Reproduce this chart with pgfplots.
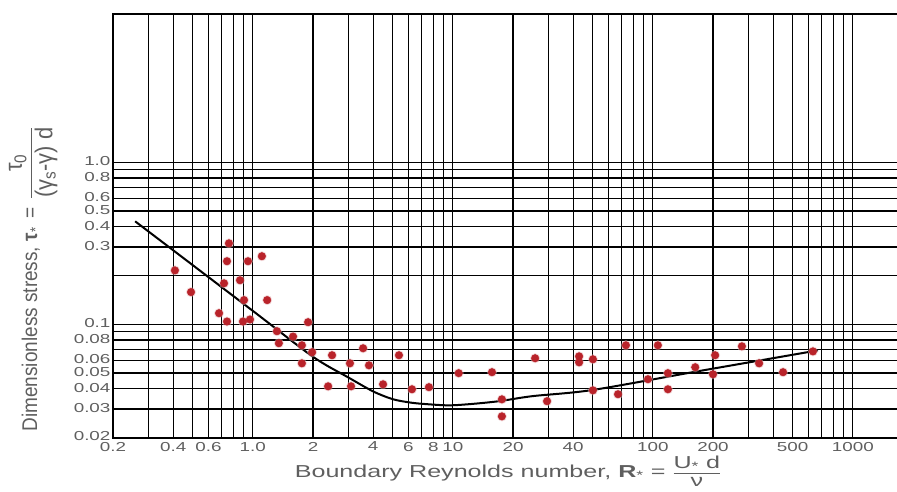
\documentclass[border=0pt]{standalone}
\usepackage{graphicx}
\usepackage{fontspec}
\setmainfont[FakeStretch=1.45]{Liberation Sans}
\newfontfamily\ylabfont{Liberation Sans}
\usepackage{pgfplots}
\pgfplotsset{compat=1.18}
\definecolor{dotred}{RGB}{185,35,42}
\definecolor{txtgray}{RGB}{95,95,95}
\begin{document}
\begin{tikzpicture}
\begin{axis}[
  at={(113pt,53.5pt)}, anchor=south west,
  scale only axis, width=790pt, height=424pt,
  xmode=log, ymode=log,
  xmin=0.2, xmax=1782.5, ymin=0.02, ymax=8.284,
  xtick={0.2,0.3,0.4,0.5,0.6,0.7,0.8,0.9,1,2,3,4,5,6,7,8,9,10,20,30,40,50,60,70,80,90,100,200,300,400,500,600,700,800,900,1000},
  xticklabels={0.2,,0.4,,0.6,,,,1.0,2,,4,,6,,8,,10,20,,40,,,,,,100,200,,,500,,,,,1000},
  ytick={0.02,0.03,0.04,0.05,0.06,0.07,0.08,0.09,0.1,0.2,0.3,0.4,0.5,0.6,0.7,0.8,0.9,1},
  yticklabels={0.02,0.03,0.04,0.05,0.06,,0.08,,0.1,,0.3,0.4,0.5,0.6,,0.8,,1.0},
  minor xtick={}, minor ytick={},
  major tick length=0pt,
  grid=major,
  major grid style={black, line width=1.1pt},
  axis line style={black, line width=2pt},
  tick label style={font=\fontsize{13}{15}\selectfont, text=txtgray},
  xticklabel style={yshift=-1pt},
  yticklabel style={xshift=1pt, yshift=1pt},
  xlabel={Boundary Reynolds number, \textbf{R}\textsubscript{*} = $\displaystyle\frac{\mbox{\raisebox{-2.5pt}[\height][0pt]{U\textsubscript{*} d}}}{\mbox{\raisebox{3pt}{ν}}}$},
  xlabel style={at={(axis description cs:0.5,-0.094)}, anchor=base, font=\fontsize{17.3}{20}\selectfont, text=txtgray},
  ylabel={\scalebox{1}[1.12]{\ylabfont Dimensionless stress, \textbf{τ}\textsubscript{*}\, = \,\scalebox{1.15}{$\displaystyle\frac{\mbox{\ylabfont τ\textsubscript{0}}}{\mbox{\ylabfont (γ\textsubscript{s}-γ) d}}$}}},
  ylabel style={at={(axis description cs:-0.101,0.374)}, anchor=center, font=\fontsize{19}{22}\selectfont, text=txtgray},
]
\addplot[black, line width=2pt, smooth, tension=0.5] coordinates {
 (0.258,0.432) (1.0,0.121) (2.0,0.063) (3.0,0.047) (4.0,0.0385) (5.0,0.0345)
 (6.0,0.033) (7.0,0.0323) (9.4,0.0316) (12,0.0321) (17,0.0335) (25,0.036) (50,0.0393)
 (170,0.0514) (670,0.069)
};
\addplot[only marks, mark=*, mark size=4.8pt, mark options={draw=dotred!35, fill=dotred!35, opacity=0.4}] coordinates {
 (0.408,0.215) (0.491,0.158) (0.76,0.316) (0.743,0.245) (0.946,0.245) (1.11,0.263)
 (0.718,0.179) (0.863,0.187) (0.904,0.141) (1.18,0.141) (0.678,0.117) (0.743,0.104)
 (0.893,0.104) (0.968,0.107) (1.32,0.0906) (1.59,0.084) (1.89,0.103) (1.35,0.0764)
 (1.76,0.0742) (1.98,0.0672) (1.76,0.0574) (2.49,0.0644) (3.56,0.0711) (3.06,0.0574)
 (3.81,0.0558) (5.38,0.0644) (2.38,0.0414) (3.10,0.0414) (4.48,0.0426) (6.25,0.0397)
 (7.6,0.0409) (10.7,0.0499) (15.7,0.0506) (17.6,0.0344) (17.6,0.0270) (25.8,0.0617)
 (29.6,0.0335) (42.8,0.0634) (42.8,0.0582) (50.2,0.0608) (50.2,0.0391) (73.4,0.0742)
 (106,0.0742) (67,0.0370) (94.6,0.0458) (119,0.0499) (119,0.0397) (163,0.0543)
 (205,0.0644) (200,0.0491) (279,0.0731) (340,0.0574) (448,0.0506) (632,0.068)
};
\addplot[only marks, mark=*, mark size=3.8pt, mark options={draw=dotred, fill=dotred}] coordinates {
 (0.408,0.215) (0.491,0.158) (0.76,0.316) (0.743,0.245) (0.946,0.245) (1.11,0.263)
 (0.718,0.179) (0.863,0.187) (0.904,0.141) (1.18,0.141) (0.678,0.117) (0.743,0.104)
 (0.893,0.104) (0.968,0.107) (1.32,0.0906) (1.59,0.084) (1.89,0.103) (1.35,0.0764)
 (1.76,0.0742) (1.98,0.0672) (1.76,0.0574) (2.49,0.0644) (3.56,0.0711) (3.06,0.0574)
 (3.81,0.0558) (5.38,0.0644) (2.38,0.0414) (3.10,0.0414) (4.48,0.0426) (6.25,0.0397)
 (7.6,0.0409) (10.7,0.0499) (15.7,0.0506) (17.6,0.0344) (17.6,0.0270) (25.8,0.0617)
 (29.6,0.0335) (42.8,0.0634) (42.8,0.0582) (50.2,0.0608) (50.2,0.0391) (73.4,0.0742)
 (106,0.0742) (67,0.0370) (94.6,0.0458) (119,0.0499) (119,0.0397) (163,0.0543)
 (205,0.0644) (200,0.0491) (279,0.0731) (340,0.0574) (448,0.0506) (632,0.068)
};
\end{axis}
\pgfresetboundingbox
\path[use as bounding box] (0,0) rectangle (897pt,491pt);
\end{tikzpicture}
\end{document}
